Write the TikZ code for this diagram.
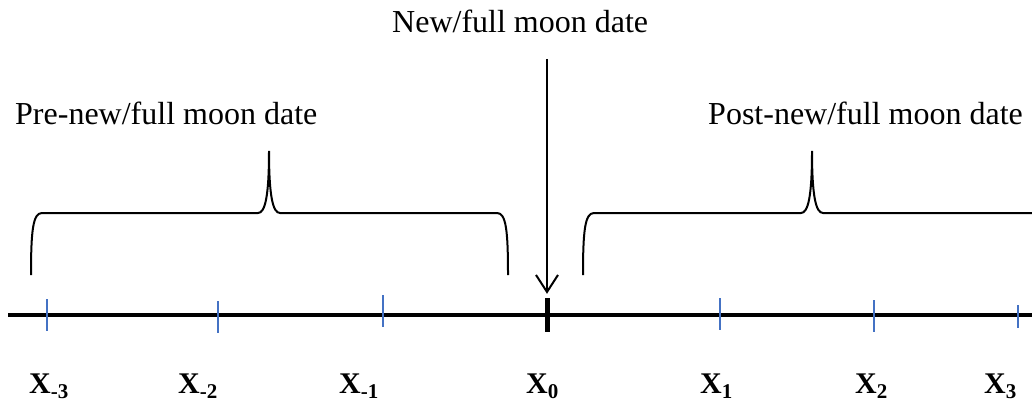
\documentclass[tikz,border=0pt]{standalone}
\usepackage{fontspec}
\setmainfont{Liberation Serif}
\usetikzlibrary{arrows.meta,positioning}
\definecolor{tickblue}{HTML}{4472C4}

\begin{document}
\begin{tikzpicture}[
  x=1pt,y=1pt,
  lbl/.style={font=\fontsize{32}{38}\selectfont, inner sep=0pt, anchor=base west},
  xlbl/.style={font=\fontsize{30}{36}\selectfont\bfseries, inner sep=0pt, anchor=base west},
  brace/.style={line width=2pt},
  daytick/.style={draw=tickblue, line width=1.5pt},
  arr/.style={-{Straight Barb[length=17pt,width=22pt]}, line width=2pt}
]
\useasboundingbox (0,0) rectangle (1032,402);
% time axis
\coordinate (axl) at (8,87);
\coordinate (axr) at (1032,87);
\draw[line width=4pt] (axl) -- (axr);
\node[fill=black, inner sep=0pt, minimum width=5pt, minimum height=34pt] (x0tick) at (547,87) {};
\foreach \xx/\ya/\yb in {47/103/71, 218/101/69, 383/107/75, 720/104/72, 874/102/70, 1018/97/74}
  \draw[daytick] (\xx,\ya) -- (\xx,\yb);
% labels
\node[lbl] (newlbl) at (392,369) {New/full moon date};
\node[lbl] (prelbl) at (15,277) {Pre-new/full moon date};
\node[lbl] (postlbl) at (708,277) {Post-new/full moon date};
\coordinate (arrtop) at (547,343);
\draw[arr] (arrtop) -- ([yshift=4pt]x0tick.north);
% braces
\draw[brace] (31,127) .. controls (31,172) and (33,189) .. (42,189) -- (258,189)
  .. controls (265,189) and (269,205) .. (269,251)
  .. controls (269,205) and (273,189) .. (280,189) -- (497,189)
  .. controls (506,189) and (508,172) .. (508,127);
\draw[brace] (583,127) .. controls (583,172) and (585,189) .. (594,189) -- (801,189)
  .. controls (808,189) and (812,205) .. (812,251)
  .. controls (812,205) and (816,189) .. (823,189) -- (1032,189);
% day labels
\node[xlbl] (xm3) at (29,9) {X\textsubscript{-3}};
\node[xlbl] (xm2) at (178,9) {X\textsubscript{-2}};
\node[xlbl] (xm1) at (339,9) {X\textsubscript{-1}};
\node[xlbl] (x0) at (526,9) {X\textsubscript{0}};
\node[xlbl] (x1) at (700,9) {X\textsubscript{1}};
\node[xlbl] (x2) at (855,9) {X\textsubscript{2}};
\node[xlbl] (x3) at (984,9) {X\textsubscript{3}};
\end{tikzpicture}
\end{document}
